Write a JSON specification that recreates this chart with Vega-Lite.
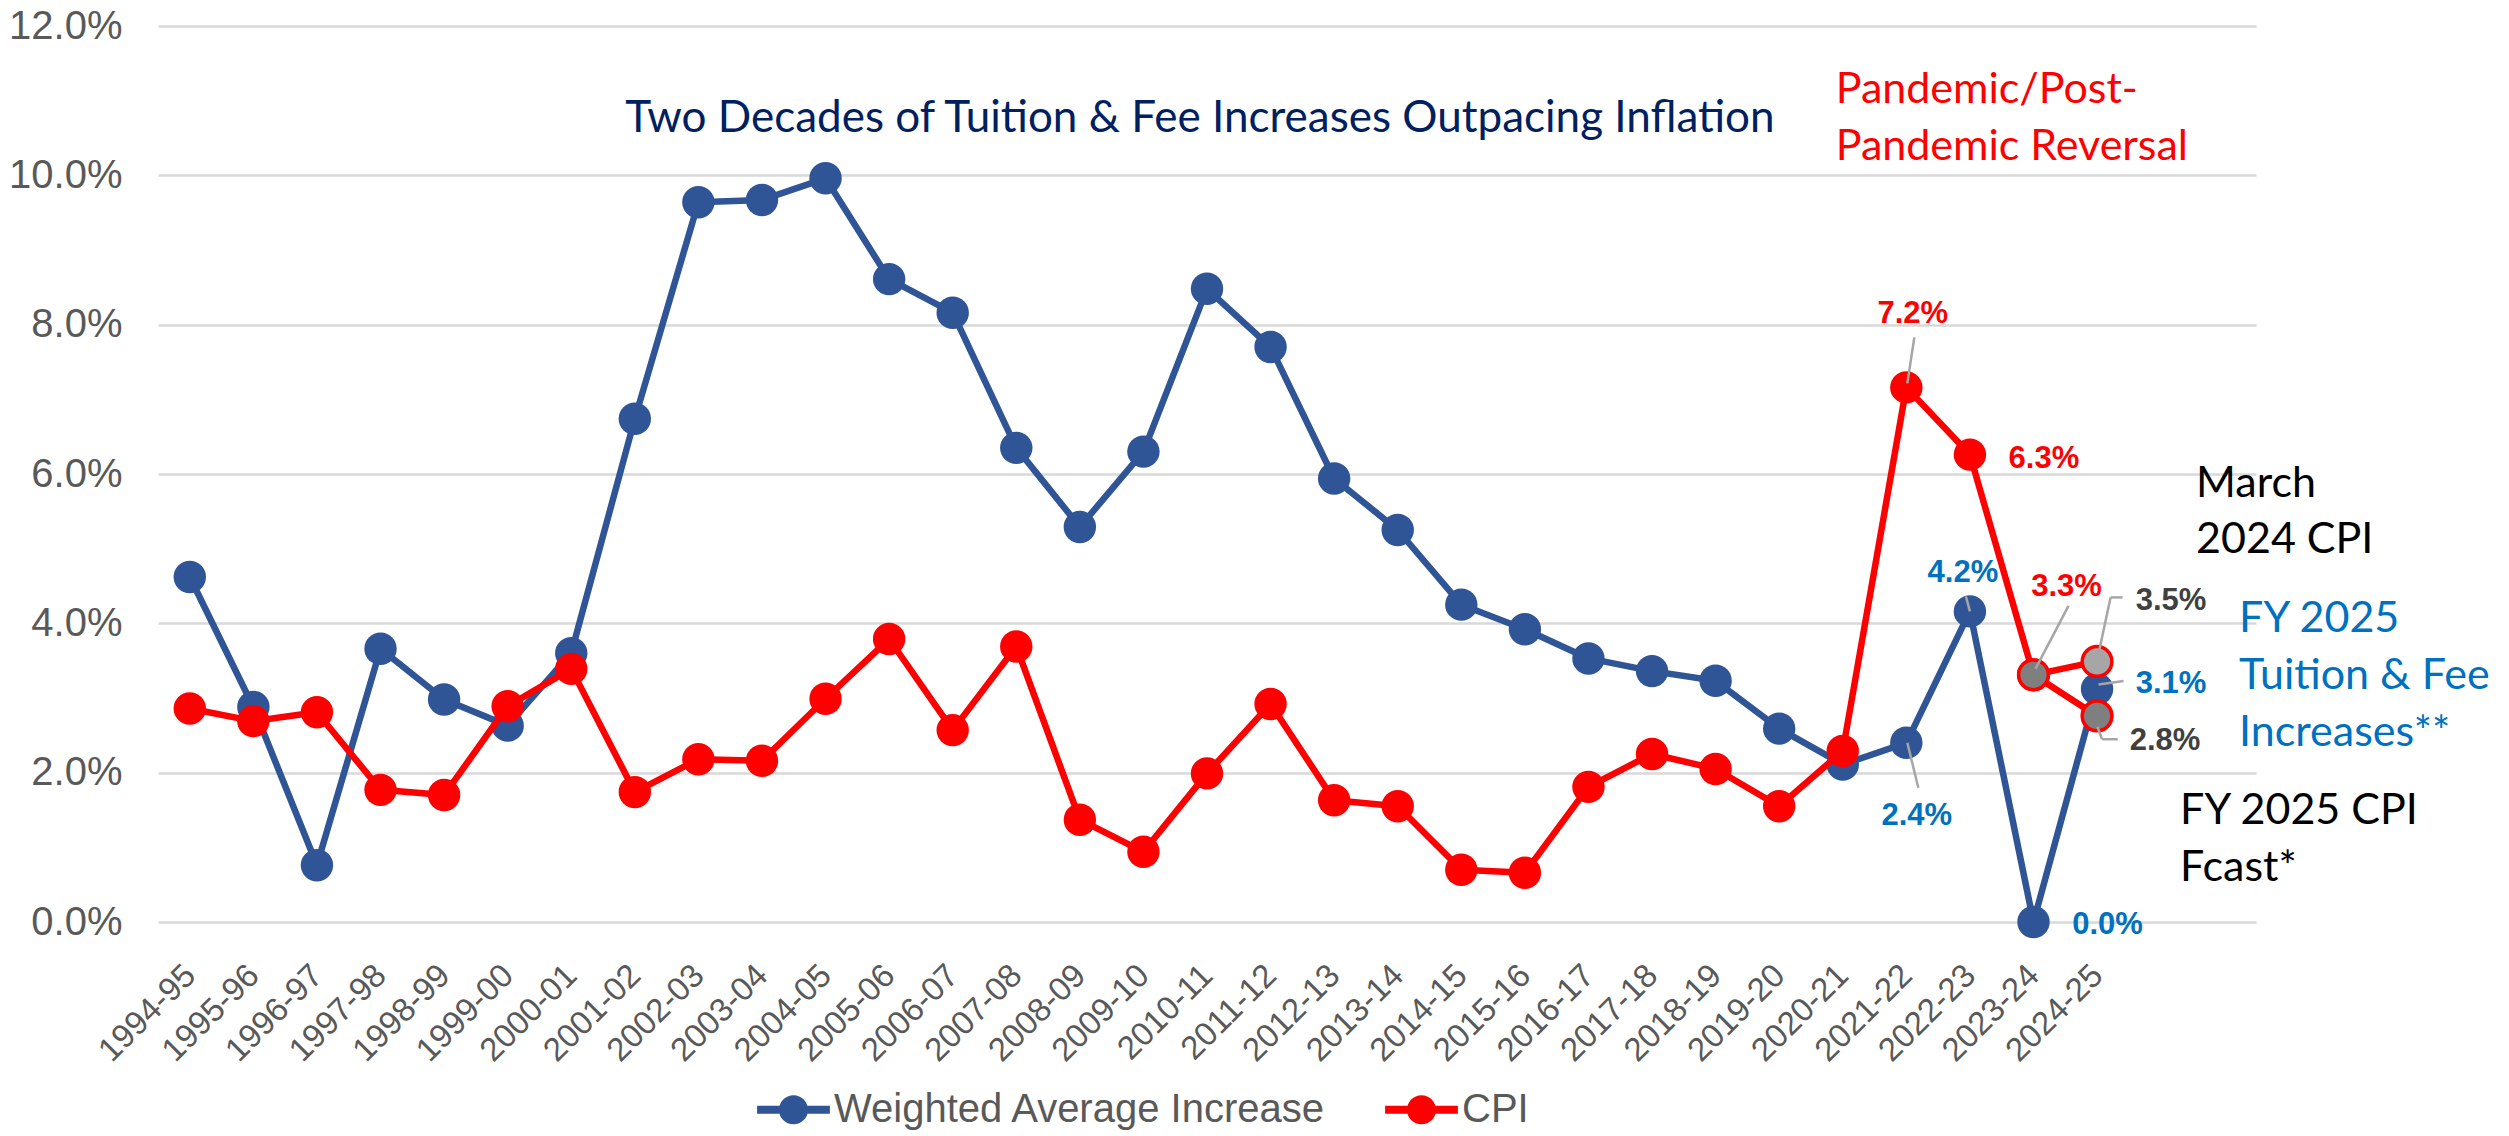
{
  "$schema": "https://vega.github.io/schema/vega-lite/v6.json",
  "width": 2098,
  "height": 896,
  "autosize": {"type": "none"},
  "padding": {"left": 158, "top": 26, "right": 253, "bottom": 214},
  "background": "white",
  "config": {"view": {"stroke": null}},
  "data": {"values": [
    {"fy": "1994-95", "series": "Weighted Average Increase", "value": 0.0462},
    {"fy": "1995-96", "series": "Weighted Average Increase", "value": 0.0288},
    {"fy": "1996-97", "series": "Weighted Average Increase", "value": 0.0076},
    {"fy": "1997-98", "series": "Weighted Average Increase", "value": 0.0366},
    {"fy": "1998-99", "series": "Weighted Average Increase", "value": 0.0298},
    {"fy": "1999-00", "series": "Weighted Average Increase", "value": 0.0263},
    {"fy": "2000-01", "series": "Weighted Average Increase", "value": 0.0360},
    {"fy": "2001-02", "series": "Weighted Average Increase", "value": 0.0674},
    {"fy": "2002-03", "series": "Weighted Average Increase", "value": 0.0964},
    {"fy": "2003-04", "series": "Weighted Average Increase", "value": 0.0967},
    {"fy": "2004-05", "series": "Weighted Average Increase", "value": 0.0996},
    {"fy": "2005-06", "series": "Weighted Average Increase", "value": 0.0861},
    {"fy": "2006-07", "series": "Weighted Average Increase", "value": 0.0816},
    {"fy": "2007-08", "series": "Weighted Average Increase", "value": 0.0635},
    {"fy": "2008-09", "series": "Weighted Average Increase", "value": 0.0529},
    {"fy": "2009-10", "series": "Weighted Average Increase", "value": 0.0630},
    {"fy": "2010-11", "series": "Weighted Average Increase", "value": 0.0848},
    {"fy": "2011-12", "series": "Weighted Average Increase", "value": 0.0770},
    {"fy": "2012-13", "series": "Weighted Average Increase", "value": 0.0594},
    {"fy": "2013-14", "series": "Weighted Average Increase", "value": 0.0525},
    {"fy": "2014-15", "series": "Weighted Average Increase", "value": 0.0425},
    {"fy": "2015-16", "series": "Weighted Average Increase", "value": 0.0392},
    {"fy": "2016-17", "series": "Weighted Average Increase", "value": 0.0353},
    {"fy": "2017-18", "series": "Weighted Average Increase", "value": 0.0336},
    {"fy": "2018-19", "series": "Weighted Average Increase", "value": 0.0323},
    {"fy": "2019-20", "series": "Weighted Average Increase", "value": 0.0259},
    {"fy": "2020-21", "series": "Weighted Average Increase", "value": 0.0211},
    {"fy": "2021-22", "series": "Weighted Average Increase", "value": 0.0240},
    {"fy": "2022-23", "series": "Weighted Average Increase", "value": 0.0416},
    {"fy": "2023-24", "series": "Weighted Average Increase", "value": 0.0},
    {"fy": "2024-25", "series": "Weighted Average Increase", "value": 0.0312},
    {"fy": "1994-95", "series": "CPI", "value": 0.0286},
    {"fy": "1995-96", "series": "CPI", "value": 0.0269},
    {"fy": "1996-97", "series": "CPI", "value": 0.0281},
    {"fy": "1997-98", "series": "CPI", "value": 0.0177},
    {"fy": "1998-99", "series": "CPI", "value": 0.0170},
    {"fy": "1999-00", "series": "CPI", "value": 0.0289},
    {"fy": "2000-01", "series": "CPI", "value": 0.0339},
    {"fy": "2001-02", "series": "CPI", "value": 0.0174},
    {"fy": "2002-03", "series": "CPI", "value": 0.0218},
    {"fy": "2003-04", "series": "CPI", "value": 0.0216},
    {"fy": "2004-05", "series": "CPI", "value": 0.0299},
    {"fy": "2005-06", "series": "CPI", "value": 0.0379},
    {"fy": "2006-07", "series": "CPI", "value": 0.0257},
    {"fy": "2007-08", "series": "CPI", "value": 0.0369},
    {"fy": "2008-09", "series": "CPI", "value": 0.0137},
    {"fy": "2009-10", "series": "CPI", "value": 0.0094},
    {"fy": "2010-11", "series": "CPI", "value": 0.0199},
    {"fy": "2011-12", "series": "CPI", "value": 0.0292},
    {"fy": "2012-13", "series": "CPI", "value": 0.0163},
    {"fy": "2013-14", "series": "CPI", "value": 0.0155},
    {"fy": "2014-15", "series": "CPI", "value": 0.0070},
    {"fy": "2015-16", "series": "CPI", "value": 0.0066},
    {"fy": "2016-17", "series": "CPI", "value": 0.0181},
    {"fy": "2017-18", "series": "CPI", "value": 0.0225},
    {"fy": "2018-19", "series": "CPI", "value": 0.0205},
    {"fy": "2019-20", "series": "CPI", "value": 0.0155},
    {"fy": "2020-21", "series": "CPI", "value": 0.0229},
    {"fy": "2021-22", "series": "CPI", "value": 0.0716},
    {"fy": "2022-23", "series": "CPI", "value": 0.0626},
    {"fy": "2023-24", "series": "CPI", "value": 0.0331},
    {"fy": "2024-25", "series": "CPI", "value": 0.0276},
    {"fy": "2023-24", "series": "March 2024 CPI", "value": 0.0331},
    {"fy": "2024-25", "series": "March 2024 CPI", "value": 0.0349}
  ]},
  "layer": [
    {
      "transform": [{"filter": "datum.series === 'Weighted Average Increase'"}],
      "mark": {"type": "line", "color": "#2F5597", "strokeWidth": 6.5, "strokeJoin": "round"},
      "encoding": {
        "x": {"field": "fy", "type": "ordinal",
          "scale": {"type": "point", "padding": 0.5, "domain": ["1994-95","1995-96","1996-97","1997-98","1998-99","1999-00","2000-01","2001-02","2002-03","2003-04","2004-05","2005-06","2006-07","2007-08","2008-09","2009-10","2010-11","2011-12","2012-13","2013-14","2014-15","2015-16","2016-17","2017-18","2018-19","2019-20","2020-21","2021-22","2022-23","2023-24","2024-25"," ","  "]},
          "axis": {"title": null, "labelAngle": -45, "labelAlign": "right", "labelBaseline": "middle", "labelPadding": 48, "labelFont": "Liberation Sans", "labelFontSize": 33, "labelColor": "#595959", "ticks": false, "domain": false, "grid": false, "labelOverlap": false, "labelBound": false}},
        "y": {"field": "value", "type": "quantitative",
          "scale": {"domain": [0, 0.12], "nice": false, "zero": true},
          "axis": {"title": null, "values": [0, 0.02, 0.04, 0.06, 0.08, 0.1, 0.12], "format": ".1%", "labelFont": "Liberation Sans", "labelFontSize": 40, "labelColor": "#595959", "labelPadding": 36, "ticks": false, "tickSize": 0, "domain": false, "grid": true, "gridColor": "#D9D9D9", "gridWidth": 2.5}}
      }
    },
    {
      "transform": [{"filter": "datum.series === 'Weighted Average Increase'"}],
      "mark": {"type": "circle", "size": 1050, "opacity": 1},
      "encoding": {
        "x": {"field": "fy", "type": "ordinal"},
        "y": {"field": "value", "type": "quantitative"},
        "color": {"field": "series", "type": "nominal",
          "scale": {"domain": ["Weighted Average Increase", "CPI"], "range": ["#2F5597", "#FF0000"]},
          "legend": {"orient": "none", "legendX": 599, "legendY": 1047, "direction": "horizontal", "title": null,
            "symbolType": "M-1,-0.11H-0.385V0.11H-1Z M0.385,-0.11H1V0.11H0.385Z M-0.4,0A0.4,0.4,0,1,1,0.4,0A0.4,0.4,0,1,1,-0.4,0Z",
            "symbolSize": 5300, "symbolStrokeWidth": 0, "symbolOpacity": 1,
            "labelFont": "Liberation Sans", "labelFontSize": 40, "labelColor": "#595959", "labelOffset": 4, "columnPadding": 58, "labelLimit": 0}}
      }
    },
    {
      "transform": [{"filter": "datum.series === 'CPI'"}],
      "mark": {"type": "line", "color": "#FF0000", "strokeWidth": 6.5, "strokeJoin": "round"},
      "encoding": {
        "x": {"field": "fy", "type": "ordinal"},
        "y": {"field": "value", "type": "quantitative"}
      }
    },
    {
      "transform": [{"filter": "datum.series === 'March 2024 CPI'"}],
      "mark": {"type": "line", "color": "#FF0000", "strokeWidth": 6.5, "strokeJoin": "round"},
      "encoding": {
        "x": {"field": "fy", "type": "ordinal"},
        "y": {"field": "value", "type": "quantitative"}
      }
    },
    {
      "transform": [{"filter": "datum.series === 'CPI'"}],
      "mark": {"type": "circle", "size": 1050, "opacity": 1},
      "encoding": {
        "x": {"field": "fy", "type": "ordinal"},
        "y": {"field": "value", "type": "quantitative"},
        "color": {"field": "series", "type": "nominal"}
      }
    },
    {
      "transform": [{"filter": "(datum.series === 'CPI' && (datum.fy === '2023-24' || datum.fy === '2024-25')) || datum.series === 'March 2024 CPI'"}],
      "mark": {"type": "circle", "size": 880, "opacity": 1, "stroke": "#FF0000", "strokeWidth": 3.5},
      "encoding": {
        "x": {"field": "fy", "type": "ordinal"},
        "y": {"field": "value", "type": "quantitative"},
        "fill": {"condition": {"test": "datum.series === 'March 2024 CPI' && datum.fy === '2024-25'", "value": "#A6A6A6"}, "value": "#7F7F7F"}
      }
    },
    {
      "transform": [{"filter": "datum.series === 'CPI' && datum.fy === '2021-22'"}],
      "mark": {"type": "rule", "color": "#A6A6A6", "strokeWidth": 2.5, "xOffset": 8, "yOffset": -50, "x2Offset": 1, "y2Offset": -4},
      "encoding": {"x": {"field": "fy", "type": "ordinal"}, "y": {"field": "value", "type": "quantitative"}, "x2": {"field": "fy"}, "y2": {"field": "value"}}
    },
    {
      "transform": [{"filter": "datum.series === 'Weighted Average Increase' && datum.fy === '2021-22'"}],
      "mark": {"type": "rule", "color": "#A6A6A6", "strokeWidth": 2.5, "xOffset": 1, "yOffset": 0, "x2Offset": 12, "y2Offset": 45},
      "encoding": {"x": {"field": "fy", "type": "ordinal"}, "y": {"field": "value", "type": "quantitative"}, "x2": {"field": "fy"}, "y2": {"field": "value"}}
    },
    {
      "transform": [{"filter": "datum.series === 'Weighted Average Increase' && datum.fy === '2022-23'"}],
      "mark": {"type": "rule", "color": "#A6A6A6", "strokeWidth": 2.5, "xOffset": -4, "yOffset": -15, "x2Offset": 0, "y2Offset": 0},
      "encoding": {"x": {"field": "fy", "type": "ordinal"}, "y": {"field": "value", "type": "quantitative"}, "x2": {"field": "fy"}, "y2": {"field": "value"}}
    },
    {
      "transform": [{"filter": "datum.series === 'CPI' && datum.fy === '2023-24'"}],
      "mark": {"type": "rule", "color": "#A6A6A6", "strokeWidth": 2.5, "xOffset": 35, "yOffset": -69, "x2Offset": 2, "y2Offset": -6},
      "encoding": {"x": {"field": "fy", "type": "ordinal"}, "y": {"field": "value", "type": "quantitative"}, "x2": {"field": "fy"}, "y2": {"field": "value"}}
    },
    {
      "transform": [{"filter": "datum.series === 'March 2024 CPI' && datum.fy === '2024-25'"}],
      "mark": {"type": "rule", "color": "#A6A6A6", "strokeWidth": 2.5, "xOffset": 25.5, "yOffset": -64, "x2Offset": 13.5, "y2Offset": -64},
      "encoding": {"x": {"field": "fy", "type": "ordinal"}, "y": {"field": "value", "type": "quantitative"}, "x2": {"field": "fy"}, "y2": {"field": "value"}}
    },
    {
      "transform": [{"filter": "datum.series === 'March 2024 CPI' && datum.fy === '2024-25'"}],
      "mark": {"type": "rule", "color": "#A6A6A6", "strokeWidth": 2.5, "xOffset": 13.5, "yOffset": -64, "x2Offset": 2.5, "y2Offset": -12.5},
      "encoding": {"x": {"field": "fy", "type": "ordinal"}, "y": {"field": "value", "type": "quantitative"}, "x2": {"field": "fy"}, "y2": {"field": "value"}}
    },
    {
      "transform": [{"filter": "datum.series === 'Weighted Average Increase' && datum.fy === '2024-25'"}],
      "mark": {"type": "rule", "color": "#A6A6A6", "strokeWidth": 2.5, "xOffset": 26.5, "yOffset": -8, "x2Offset": 1.5, "y2Offset": -4.5},
      "encoding": {"x": {"field": "fy", "type": "ordinal"}, "y": {"field": "value", "type": "quantitative"}, "x2": {"field": "fy"}, "y2": {"field": "value"}}
    },
    {
      "transform": [{"filter": "datum.series === 'CPI' && datum.fy === '2024-25'"}],
      "mark": {"type": "rule", "color": "#A6A6A6", "strokeWidth": 2.5, "xOffset": 20.7, "yOffset": 23.3, "x2Offset": 5, "y2Offset": 23.3},
      "encoding": {"x": {"field": "fy", "type": "ordinal"}, "y": {"field": "value", "type": "quantitative"}, "x2": {"field": "fy"}, "y2": {"field": "value"}}
    },
    {
      "transform": [{"filter": "datum.series === 'CPI' && datum.fy === '2024-25'"}],
      "mark": {"type": "rule", "color": "#A6A6A6", "strokeWidth": 2.5, "xOffset": 5, "yOffset": 23.3, "x2Offset": 0.3, "y2Offset": 10.8},
      "encoding": {"x": {"field": "fy", "type": "ordinal"}, "y": {"field": "value", "type": "quantitative"}, "x2": {"field": "fy"}, "y2": {"field": "value"}}
    },
    {
      "transform": [{"filter": "datum.series === 'CPI' && datum.fy === '2021-22'"}],
      "mark": {"type": "text", "font": "Liberation Sans", "fontWeight": "bold", "fontSize": 31, "color": "#FF0000", "align": "center", "baseline": "alphabetic", "dx": 6.5, "dy": -64},
      "encoding": {"x": {"field": "fy", "type": "ordinal"}, "y": {"field": "value", "type": "quantitative"}, "text": {"field": "value", "type": "quantitative", "format": ".1%"}}
    },
    {
      "transform": [{"filter": "datum.series === 'CPI' && datum.fy === '2022-23'"}],
      "mark": {"type": "text", "font": "Liberation Sans", "fontWeight": "bold", "fontSize": 31, "color": "#FF0000", "align": "center", "baseline": "alphabetic", "dx": 74, "dy": 13},
      "encoding": {"x": {"field": "fy", "type": "ordinal"}, "y": {"field": "value", "type": "quantitative"}, "text": {"field": "value", "type": "quantitative", "format": ".1%"}}
    },
    {
      "transform": [{"filter": "datum.series === 'Weighted Average Increase' && datum.fy === '2022-23'"}],
      "mark": {"type": "text", "font": "Liberation Sans", "fontWeight": "bold", "fontSize": 31, "color": "#0070C0", "align": "center", "baseline": "alphabetic", "dx": -7, "dy": -29},
      "encoding": {"x": {"field": "fy", "type": "ordinal"}, "y": {"field": "value", "type": "quantitative"}, "text": {"field": "value", "type": "quantitative", "format": ".1%"}}
    },
    {
      "transform": [{"filter": "datum.series === 'Weighted Average Increase' && datum.fy === '2021-22'"}],
      "mark": {"type": "text", "font": "Liberation Sans", "fontWeight": "bold", "fontSize": 31, "color": "#0070C0", "align": "center", "baseline": "alphabetic", "dx": 10.5, "dy": 82},
      "encoding": {"x": {"field": "fy", "type": "ordinal"}, "y": {"field": "value", "type": "quantitative"}, "text": {"field": "value", "type": "quantitative", "format": ".1%"}}
    },
    {
      "transform": [{"filter": "datum.series === 'CPI' && datum.fy === '2023-24'"}],
      "mark": {"type": "text", "font": "Liberation Sans", "fontWeight": "bold", "fontSize": 31, "color": "#FF0000", "align": "center", "baseline": "alphabetic", "dx": 33, "dy": -79},
      "encoding": {"x": {"field": "fy", "type": "ordinal"}, "y": {"field": "value", "type": "quantitative"}, "text": {"field": "value", "type": "quantitative", "format": ".1%"}}
    },
    {
      "transform": [{"filter": "datum.series === 'March 2024 CPI' && datum.fy === '2024-25'"}],
      "mark": {"type": "text", "font": "Liberation Sans", "fontWeight": "bold", "fontSize": 31, "color": "#404040", "align": "center", "baseline": "alphabetic", "dx": 74, "dy": -51},
      "encoding": {"x": {"field": "fy", "type": "ordinal"}, "y": {"field": "value", "type": "quantitative"}, "text": {"field": "value", "type": "quantitative", "format": ".1%"}}
    },
    {
      "transform": [{"filter": "datum.series === 'Weighted Average Increase' && datum.fy === '2024-25'"}],
      "mark": {"type": "text", "font": "Liberation Sans", "fontWeight": "bold", "fontSize": 31, "color": "#0070C0", "align": "center", "baseline": "alphabetic", "dx": 74, "dy": 4},
      "encoding": {"x": {"field": "fy", "type": "ordinal"}, "y": {"field": "value", "type": "quantitative"}, "text": {"field": "value", "type": "quantitative", "format": ".1%"}}
    },
    {
      "transform": [{"filter": "datum.series === 'CPI' && datum.fy === '2024-25'"}],
      "mark": {"type": "text", "font": "Liberation Sans", "fontWeight": "bold", "fontSize": 31, "color": "#404040", "align": "center", "baseline": "alphabetic", "dx": 68, "dy": 34},
      "encoding": {"x": {"field": "fy", "type": "ordinal"}, "y": {"field": "value", "type": "quantitative"}, "text": {"field": "value", "type": "quantitative", "format": ".1%"}}
    },
    {
      "transform": [{"filter": "datum.series === 'Weighted Average Increase' && datum.fy === '2023-24'"}],
      "mark": {"type": "text", "font": "Liberation Sans", "fontWeight": "bold", "fontSize": 31, "color": "#0070C0", "align": "center", "baseline": "alphabetic", "dx": 74, "dy": 12},
      "encoding": {"x": {"field": "fy", "type": "ordinal"}, "y": {"field": "value", "type": "quantitative"}, "text": {"field": "value", "type": "quantitative", "format": ".1%"}}
    },
    {
      "data": {"values": [{"note": "Two Decades of Tuition & Fee Increases Outpacing Inflation"}]},
      "mark": {"type": "text", "font": "Lato", "fontSize": 44, "color": "#002060", "align": "center", "baseline": "alphabetic", "dx": 56.5},
      "encoding": {"x": {"datum": "2009-10", "type": "ordinal"}, "y": {"datum": 0.1058, "type": "quantitative"}, "text": {"field": "note", "type": "nominal"}}
    },
    {
      "data": {"values": [{"note": "Pandemic/Post-Pandemic Reversal"}]},
      "mark": {"type": "text", "font": "Lato", "fontSize": 43, "color": "#FF0000", "align": "left", "baseline": "alphabetic", "dx": -7, "lineHeight": 57, "text": ["Pandemic/Post-", "Pandemic Reversal"]},
      "encoding": {"x": {"datum": "2020-21", "type": "ordinal"}, "y": {"datum": 0.10965, "type": "quantitative"}}
    },
    {
      "data": {"values": [{"note": "March 2024 CPI"}]},
      "mark": {"type": "text", "font": "Lato", "fontSize": 43, "color": "#000000", "align": "left", "baseline": "alphabetic", "dx": 99, "lineHeight": 56, "text": ["March", "2024 CPI"]},
      "encoding": {"x": {"datum": "2024-25", "type": "ordinal"}, "y": {"datum": 0.05692, "type": "quantitative"}}
    },
    {
      "data": {"values": [{"note": "FY 2025 Tuition & Fee Increases**"}]},
      "mark": {"type": "text", "font": "Lato", "fontSize": 43, "color": "#0070C0", "align": "left", "baseline": "alphabetic", "dx": 142, "lineHeight": 57, "text": ["FY 2025", "Tuition & Fee", "Increases**"]},
      "encoding": {"x": {"datum": "2024-25", "type": "ordinal"}, "y": {"datum": 0.03888, "type": "quantitative"}}
    },
    {
      "data": {"values": [{"note": "FY 2025 CPI Fcast*"}]},
      "mark": {"type": "text", "font": "Lato", "fontSize": 43, "color": "#000000", "align": "left", "baseline": "alphabetic", "dx": 83, "lineHeight": 56.6, "text": ["FY 2025 CPI", "Fcast*"]},
      "encoding": {"x": {"datum": "2024-25", "type": "ordinal"}, "y": {"datum": 0.013125, "type": "quantitative"}}
    }
  ]
}
